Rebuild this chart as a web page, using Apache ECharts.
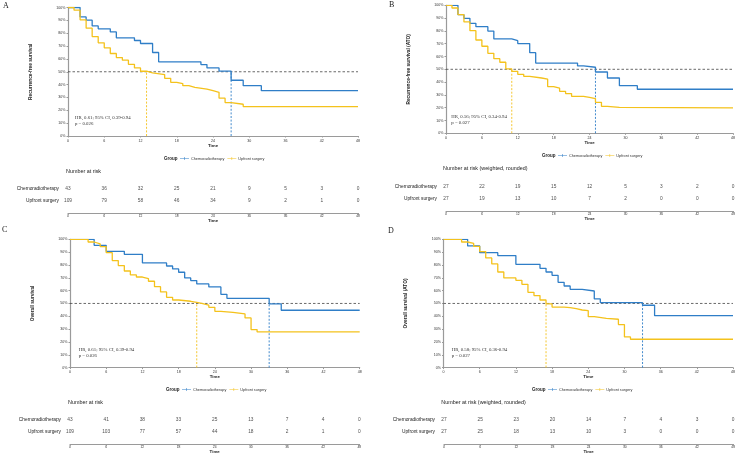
<!DOCTYPE html>
<html>
<head>
<meta charset="utf-8">
<title>Kaplan-Meier curves</title>
<script src="https://cdn.jsdelivr.net/npm/echarts@6/dist/echarts.min.js"></script>
<style>
  html, body { margin: 0; padding: 0; background: #fff; }
  #chart { width: 738px; height: 455px; }
</style>
</head>
<body>
<div id="chart"></div>
<script>
// ---- data ----
const groups = ['Chemoradiotherapy', 'Upfront surgery']
const riskTimes = [0, 6, 12, 18, 24, 30, 36, 42, 48]

// A: recurrence-free survival
const aChemoT = [0, 2, 3, 4, 5, 7, 8, 11, 12, 14, 15, 22, 23, 25, 27, 29, 32, 48]
const aChemoS = [100, 92.7, 90.1, 85.7, 83.4, 81, 76.4, 74.3, 72, 65, 57.7, 55.6, 53, 50.5, 43.4, 39.2, 35.3, 35.3]
const aUpT = [0, 1, 2, 3, 4, 5, 6, 7, 8, 9, 10, 11, 12, 13, 14, 16, 17, 18, 19, 20, 21, 23, 24, 25, 26, 27, 29, 48]
const aUpS = [100, 97.9, 90.4, 83.9, 77.4, 72.5, 68.6, 64.2, 61, 59, 55.8, 53, 50.4, 49.1, 47.8, 44.9, 41.8, 40.8, 39.2, 37.9, 36.4, 35.3, 34, 29.4, 26, 24.7, 22.9, 22.9]
const aMedians = [27, 13]
const aRiskChemo = [43, 36, 32, 25, 21, 9, 5, 3, 0]
const aRiskUp = [109, 79, 58, 46, 34, 9, 2, 1, 0]

// B: recurrence-free survival (ATO)
const bChemoT = [0, 2, 3, 4, 5, 7, 8, 11, 12, 14, 15, 22, 23, 25, 27, 29, 32, 48]
const bChemoS = [100, 92.7, 89.8, 85.9, 83.3, 79.9, 73.7, 72.4, 70.1, 63, 54.9, 52.6, 51.6, 47.9, 43.2, 37.2, 34.4, 34.4]
const bUpT = [0, 1, 2, 3, 4, 5, 6, 7, 8, 9, 10, 11, 12, 13, 14, 16, 17, 18, 19, 20, 21, 23, 24, 25, 26, 27, 29, 48]
const bUpS = [100, 97.9, 92.7, 87, 80.2, 72.9, 68, 62.5, 58.3, 55.5, 50.3, 48.4, 46.1, 44.5, 43.2, 42.4, 36.5, 35.2, 32.8, 31, 28.9, 28.1, 27.1, 24.2, 21.1, 20.3, 19.8, 19.8]
const bMedians = [25, 11]
const bRiskChemo = [27, 22, 19, 15, 12, 5, 3, 2, 0]
const bRiskUp = [27, 19, 13, 10, 7, 2, 0, 0, 0]

// C: overall survival
const cChemoT = [0, 4, 6, 9, 12, 16, 17, 18, 19, 20, 21, 23, 25, 26, 33, 35, 48]
const cChemoS = [100, 95.3, 90.6, 88.3, 81.6, 79.2, 76.9, 74.3, 69.9, 67.8, 65.2, 62.9, 57.1, 54, 49.6, 44.7, 44.7]
const cUpT = [0, 3, 4, 5, 6, 7, 8, 9, 10, 11, 12, 13, 14, 15, 16, 17, 18, 20, 21, 22, 23, 24, 25, 27, 29, 30, 31, 48]
const cUpS = [100, 97.9, 96.4, 94.3, 89.6, 83.4, 79.5, 75.3, 72.2, 70.6, 69.4, 67.3, 63.1, 59, 54.8, 52.7, 51.7, 50.9, 49.9, 48.6, 47, 43.9, 43.1, 41.8, 38.7, 29.6, 27.8, 27.8]
const cMedians = [33, 21]
const cRiskChemo = [43, 41, 38, 33, 25, 13, 7, 4, 0]
const cRiskUp = [109, 103, 77, 57, 44, 18, 2, 1, 0]

// D: overall survival (ATO)
const dChemoT = [0, 4, 6, 9, 12, 16, 17, 18, 19, 20, 21, 23, 25, 26, 33, 35, 48]
const dChemoS = [100, 94.8, 89.6, 87.3, 80.5, 77.4, 74.5, 71.9, 66.5, 63.6, 61, 59.7, 53.5, 50.6, 48.6, 40.5, 40.5]
const dUpT = [0, 3, 4, 5, 6, 7, 8, 9, 10, 12, 13, 14, 15, 16, 17, 18, 20, 21, 22, 23, 24, 25, 27, 29, 30, 31, 48]
const dUpS = [100, 97.9, 96.9, 94.5, 90.4, 85.5, 80.8, 74.5, 69.9, 68, 64.9, 58.7, 56.1, 52.7, 49.6, 47.2, 46.8, 46, 44.9, 44.4, 39.7, 38.4, 37.7, 33.5, 23.9, 22.1, 22.1]
const dMedians = [33, 17]
const dRiskChemo = [27, 25, 23, 20, 14, 7, 4, 3, 0]
const dRiskUp = [27, 25, 18, 13, 10, 3, 0, 0, 0]

const BLUE = '#2F7EC7'
const YELLOW = '#F4C21C'
const SANS = 'Liberation Sans, Arial, sans-serif'
const SERIF = 'Liberation Serif, Times New Roman, serif'
const AXIS_COLOR = '#9a9a9a'

// per-panel layout (pixels)
const panels = [
  {
    label: 'A', lx: 3, ly: 6,
    kmGrid: { left: 68, top: 7.5, width: 290, height: 128.5 },
    riskGrid: { left: 68, top: 183, width: 290, height: 30 },
    yName: 'Recurrence-free survival', riskTitle: 'Number at risk',
    titleX: 66, titleY: 172, groupX: 164, legendY: 159,
    hr: 'HR, 0.61; 95% CI, 0.39-0.94', p: 'p = 0.026', hrX: 75, hrY: 117.7,
    curves: [[aChemoT, aChemoS], [aUpT, aUpS]], medians: aMedians, risk: [aRiskChemo, aRiskUp]
  },
  {
    label: 'B', lx: 389, ly: 4.5,
    kmGrid: { left: 446, top: 5.3, width: 290, height: 128 },
    riskGrid: { left: 446, top: 180, width: 290, height: 31 },
    yName: 'Recurrence-free survival (ATO)', riskTitle: 'Number at risk (weighted, rounded)',
    titleX: 443, titleY: 169, groupX: 542, legendY: 156,
    hr: 'HR, 0.56; 95% CI, 0.34-0.94', p: 'p = 0.027', hrX: 451.3, hrY: 116.7,
    curves: [[bChemoT, bChemoS], [bUpT, bUpS]], medians: bMedians, risk: [bRiskChemo, bRiskUp]
  },
  {
    label: 'C', lx: 2, ly: 230,
    kmGrid: { left: 70, top: 239.3, width: 289.7, height: 128.3 },
    riskGrid: { left: 70, top: 413.3, width: 289.3, height: 31.7 },
    yName: 'Overall survival', riskTitle: 'Number at risk',
    titleX: 68, titleY: 402.7, groupX: 166, legendY: 390,
    hr: 'HR, 0.61; 95% CI, 0.39-0.94', p: 'p = 0.026', hrX: 78.7, hrY: 349.3,
    curves: [[cChemoT, cChemoS], [cUpT, cUpS]], medians: cMedians, risk: [cRiskChemo, cRiskUp]
  },
  {
    label: 'D', lx: 388, ly: 231,
    kmGrid: { left: 443.5, top: 239.3, width: 289.7, height: 128.3 },
    riskGrid: { left: 444, top: 413.3, width: 289.7, height: 31.7 },
    yName: 'Overall survival (ATO)', riskTitle: 'Number at risk (weighted, rounded)',
    titleX: 441.3, titleY: 402.7, groupX: 532, legendY: 390,
    hr: 'HR, 0.58; 95% CI, 0.36-0.94', p: 'p = 0.027', hrX: 451.7, hrY: 349.3,
    curves: [[dChemoT, dChemoS], [dUpT, dUpS]], medians: dMedians, risk: [dRiskChemo, dRiskUp]
  }
]

const colors = [BLUE, YELLOW]
const zip = (t, s) => t.map((v, i) => [v, s[i]])

const grid = []
const xAxis = []
const yAxis = []
const series = []
const legend = []
const graphic = []

const tickLabel = { fontSize: 3.6, color: '#333', fontFamily: SANS }

panels.forEach((p, i) => {
  const kmIdx = i * 2
  const riskIdx = i * 2 + 1
  grid.push(p.kmGrid, p.riskGrid)

  // KM axes
  xAxis.push({
    gridIndex: kmIdx, type: 'value', min: 0, max: 48, interval: 6,
    name: 'Time', nameLocation: 'middle', nameGap: 7.5,
    nameTextStyle: { fontSize: 4.4, fontWeight: 'bold', color: '#222', fontFamily: SANS },
    axisLine: { lineStyle: { color: AXIS_COLOR, width: 1.2 } },
    axisTick: { length: 1.5, lineStyle: { color: AXIS_COLOR } },
    axisLabel: Object.assign({ margin: 2.5 }, tickLabel),
    splitLine: { show: false }
  })
  yAxis.push({
    gridIndex: kmIdx, type: 'value', min: 0, max: 100, interval: 10,
    name: p.yName, nameLocation: 'middle', nameRotate: 90, nameGap: 35,
    nameTextStyle: { fontSize: 4.8, fontWeight: 'bold', color: '#222', fontFamily: SANS },
    axisLine: { show: true, lineStyle: { color: AXIS_COLOR, width: 1.2 } },
    axisTick: { show: true, length: 1.5, lineStyle: { color: AXIS_COLOR } },
    axisLabel: Object.assign({ margin: 2.5, formatter: '{value}%' }, tickLabel),
    splitLine: { show: false }
  })

  // risk table axes
  xAxis.push({
    gridIndex: riskIdx, type: 'value', min: 0, max: 48, interval: 6,
    name: 'Time', nameLocation: 'middle', nameGap: 6,
    nameTextStyle: { fontSize: 4.4, fontWeight: 'bold', color: '#222', fontFamily: SANS },
    axisLine: { lineStyle: { color: AXIS_COLOR, width: 1.2 } },
    axisTick: { length: 1.5, lineStyle: { color: AXIS_COLOR } },
    axisLabel: Object.assign({ margin: 2 }, tickLabel, { fontSize: 3.3 }),
    splitLine: { show: false }
  })
  yAxis.push({
    gridIndex: riskIdx, type: 'value', min: 0, max: 2.5, interval: 1,
    axisLine: { show: false }, axisTick: { show: false }, splitLine: { show: false },
    axisLabel: {
      margin: 9, fontSize: 4.8, color: '#222', fontFamily: SANS,
      formatter: v => (v === 2 ? groups[0] : v === 1 ? groups[1] : '')
    }
  })

  // 50% reference line
  series.push({
    type: 'line', name: 'ref' + i, xAxisIndex: kmIdx, yAxisIndex: kmIdx,
    data: [[0, 50], [48, 50]], symbol: 'none', silent: true,
    lineStyle: { color: '#444', width: 0.8, type: [2.5, 2] }, z: 1
  })

  p.curves.forEach((c, g) => {
    series.push({
      type: 'line', name: groups[g], xAxisIndex: kmIdx, yAxisIndex: kmIdx,
      step: 'end', symbol: 'none', data: zip(c[0], c[1]),
      lineStyle: { color: colors[g], width: 1.3 }, itemStyle: { color: colors[g] }, z: 3
    })
    // median drop line
    series.push({
      type: 'line', name: 'median' + i + g, xAxisIndex: kmIdx, yAxisIndex: kmIdx,
      data: [[p.medians[g], 0], [p.medians[g], 50]], symbol: 'none', silent: true,
      lineStyle: { color: colors[g], width: 0.9, type: [2, 1.6] }, z: 2
    })
    // risk numbers
    series.push({
      type: 'scatter', name: 'risk' + i + g, xAxisIndex: riskIdx, yAxisIndex: riskIdx,
      data: riskTimes.map((t, j) => [t, 2 - g, p.risk[g][j]]),
      symbolSize: 1, itemStyle: { color: 'rgba(0,0,0,0)' }, silent: true,
      label: {
        show: true, position: 'inside', formatter: d => d.value[2],
        fontSize: 4.8, color: '#222', fontFamily: SANS
      }
    })
  })

  legend.push({
    left: p.groupX + 16, top: p.legendY - 2.5, padding: 0,
    data: groups, itemWidth: 9, itemHeight: 5, itemGap: 3, selectedMode: false,
    icon: 'path://M0,4.4h20v1.2h-20z M9.4,1.5h1.2v7h-1.2z',
    textStyle: { fontSize: 3.8, color: '#333', fontFamily: SANS, padding: [0, 0, 0, -3] }
  })

  graphic.push(
    { type: 'text', x: p.lx, y: p.ly, style: { text: p.label, font: '8px ' + SERIF, fill: '#222', textVerticalAlign: 'middle' } },
    { type: 'text', x: p.groupX, y: p.legendY, style: { text: 'Group', font: 'bold 4.5px ' + SANS, fill: '#222', textVerticalAlign: 'middle' } },
    { type: 'text', x: p.titleX, y: p.titleY, style: { text: p.riskTitle, font: '5.4px ' + SANS, fill: '#222', textVerticalAlign: 'middle' } },
    { type: 'text', x: p.hrX, y: p.hrY, style: { text: p.hr, font: '4.8px ' + SERIF, fill: '#333', textVerticalAlign: 'middle' } },
    { type: 'text', x: p.hrX, y: p.hrY + 6, style: { text: p.p, font: '4.8px ' + SERIF, fill: '#333', textVerticalAlign: 'middle' } }
  )
})

const chart = echarts.init(document.getElementById('chart'))
chart.setOption({
  animation: false,
  backgroundColor: '#fff',
  grid, xAxis, yAxis, series, legend, graphic
})
</script>
</body>
</html>
